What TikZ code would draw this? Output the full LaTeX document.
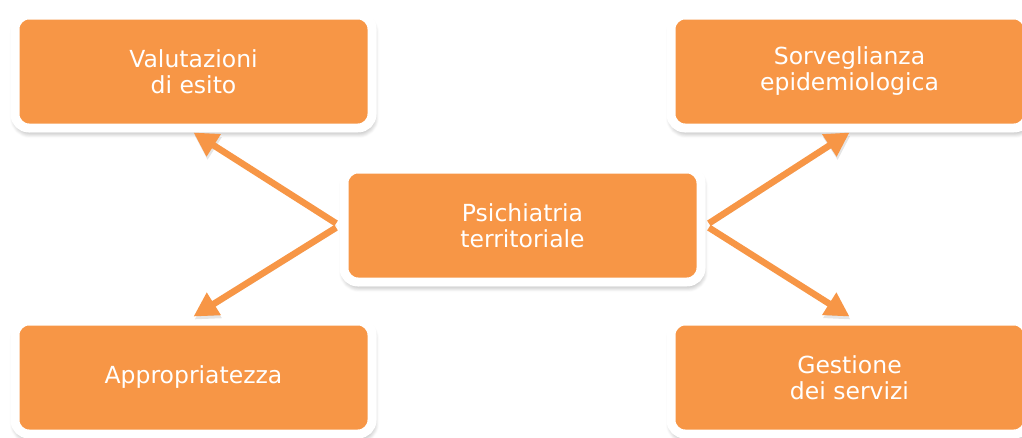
\documentclass[tikz,border=0pt]{standalone}
\usepackage{fontspec}
\setmainfont{DejaVu Sans}
\usepackage{xcolor}
\usepackage{tikz}
\usetikzlibrary{arrows.meta,shadows.blur}
\definecolor{boxorange}{RGB}{247,150,70}
\tikzset{>=stealth}
\tikzset{
  box/.style={draw=white, fill=boxorange, line width=9pt, rounded corners=14pt,
    minimum width=357pt, minimum height=113pt, inner sep=0pt, align=center,
    text=white, font=\fontsize{23.5}{26}\selectfont,
    blur shadow={shadow xshift=1pt, shadow yshift=-4pt, shadow blur radius=6pt,
      shadow blur steps=8, shadow opacity=45}},
  link/.style={line width=6.5pt, boxorange, -{Triangle[length=24pt,width=25pt]},
    shorten <=4pt,
    preaction={draw=black, opacity=0.10, transform canvas={xshift=1pt,yshift=-3pt}}}
}

\begin{document}
\begin{tikzpicture}[x=1pt,y=-1pt]
    \useasboundingbox (0,0) rectangle (1022,437);
    \node[box] (outcome) at (193.5,71.5) {Valutazioni\\di esito};
    \node[box] (surveil) at (849.5,71.5) {Sorveglianza\\epidemiologica};
    \node[box] (approp) at (193.5,377.5) {Appropriatezza};
    \node[box] (services) at (849.5,377.5) {Gestione\\dei servizi};
    \node[box] (psych) at (522.5,225.5) {Psichiatria\\territoriale};
    \draw[link] (psych.west) -- (outcome.south);
    \draw[link] (psych.west) -- (approp.north);
    \draw[link] (psych.east) -- (surveil.south);
    \draw[link] (psych.east) -- (services.north);
\end{tikzpicture}
\end{document}
